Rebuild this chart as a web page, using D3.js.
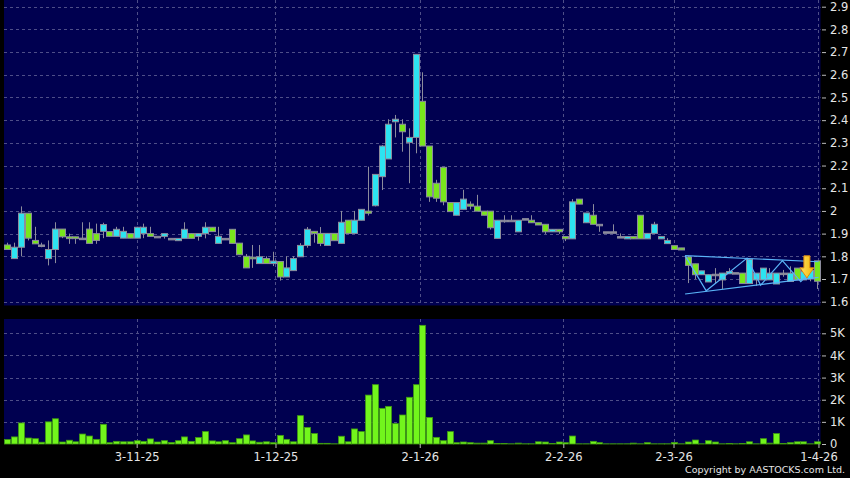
<!DOCTYPE html>
<html>
<head>
<meta charset="utf-8">
<script src="https://cdn.jsdelivr.net/npm/d3@7"></script>
<style>
  body { margin: 0; background: #000; }
  svg { display: block; }
  text { font-family: "DejaVu Sans", Verdana, sans-serif; }
</style>
</head>
<body>
<svg id="chart" width="850" height="478"></svg>
<script>
// daily prices, one entry per trading day (oldest first)
var opens = [1.85,1.79,1.84,1.99,1.87,1.85,1.79,1.83,1.92,1.886,
  1.886,1.88,1.92,1.90,1.91,1.909,1.888,1.88,1.90,1.88,
  1.90,1.90,1.888,1.888,1.879,1.869,1.879,1.90,1.888,1.90,
  1.928,1.857,1.879,1.919,1.858,1.80,1.796,1.768,1.79,1.768,
  1.777,1.709,1.737,1.798,1.848,1.91,1.901,1.848,1.901,1.857,
  1.959,1.901,1.959,1.999,2.023,2.151,2.229,2.393,2.382,2.302,
  2.324,2.483,2.286,2.122,2.192,2.037,1.981,2.007,2.03,2.021,
  1.999,1.999,1.879,1.959,1.959,1.908,1.966,1.959,1.948,1.941,
  1.908,1.919,1.887,1.877,2.052,1.948,1.981,1.941,1.908,1.908,
  1.887,1.877,1.887,1.981,1.877,1.901,1.877,1.856,1.847,1.837,
  1.797,1.767,1.719,1.687,1.721,1.696,1.723,1.728,1.726,1.68,
  1.696,1.696,1.696,1.678,1.726,1.689,1.748,1.696,1.70,1.78];
var highs = [1.86,1.86,2.02,1.99,1.93,1.86,1.87,1.95,1.92,1.90,
  1.886,1.95,1.95,1.944,1.948,1.909,1.93,1.93,1.90,1.93,
  1.944,1.93,1.888,1.90,1.879,1.879,1.95,1.90,1.90,1.95,
  1.928,1.93,1.879,1.919,1.858,1.81,1.85,1.85,1.80,1.82,
  1.777,1.80,1.80,1.858,1.929,1.91,1.929,1.901,1.901,2.0,
  1.959,2.0,2.007,2.195,2.161,2.29,2.404,2.423,2.404,2.364,
  2.69,2.611,2.286,2.137,2.192,2.037,2.037,2.093,2.042,2.071,
  1.999,1.999,1.959,1.981,1.981,1.959,1.966,1.981,1.948,1.941,
  1.919,1.919,1.887,2.052,2.052,1.991,2.03,1.941,1.908,1.941,
  1.901,1.887,1.887,1.981,1.901,1.952,1.887,1.88,1.847,1.837,
  1.80,1.767,1.736,1.719,1.748,1.726,1.748,1.728,1.726,1.787,
  1.726,1.748,1.748,1.726,1.74,1.756,1.748,1.733,1.738,1.78];
var lows = [1.83,1.79,1.80,1.87,1.855,1.84,1.76,1.77,1.88,1.855,
  1.855,1.88,1.857,1.855,1.88,1.888,1.888,1.88,1.88,1.88,
  1.88,1.888,1.888,1.878,1.879,1.869,1.879,1.879,1.869,1.879,
  1.909,1.857,1.879,1.857,1.807,1.749,1.749,1.768,1.768,1.757,
  1.693,1.709,1.737,1.798,1.838,1.86,1.845,1.848,1.869,1.857,
  1.901,1.901,1.959,1.98,2.02,2.092,2.229,2.324,2.261,2.122,
  2.254,2.286,2.04,2.04,2.025,1.997,1.981,2.007,2.007,1.999,
  1.981,1.918,1.879,1.948,1.959,1.908,1.966,1.948,1.938,1.899,
  1.908,1.899,1.867,1.877,2.03,1.948,1.941,1.908,1.908,1.908,
  1.887,1.877,1.877,1.877,1.877,1.901,1.877,1.856,1.83,1.828,
  1.682,1.70,1.719,1.687,1.682,1.656,1.723,1.728,1.68,1.68,
  1.67,1.696,1.696,1.678,1.71,1.689,1.696,1.696,1.69,1.656];
var closes = [1.83,1.84,1.99,1.88,1.855,1.85,1.83,1.92,1.886,1.878,
  1.878,1.88,1.857,1.87,1.94,1.888,1.919,1.91,1.88,1.928,
  1.928,1.888,1.888,1.90,1.879,1.879,1.919,1.879,1.90,1.928,
  1.909,1.888,1.879,1.857,1.807,1.749,1.789,1.798,1.768,1.779,
  1.709,1.749,1.79,1.848,1.919,1.901,1.857,1.901,1.869,1.95,
  1.901,1.959,2.007,1.99,2.161,2.286,2.382,2.404,2.349,2.324,
  2.69,2.286,2.062,2.056,2.04,1.997,2.037,2.052,2.021,1.999,
  1.981,1.926,1.959,1.959,1.959,1.959,1.966,1.948,1.938,1.908,
  1.919,1.908,1.877,2.04,2.03,1.991,1.941,1.941,1.908,1.908,
  1.887,1.887,1.877,1.877,1.901,1.941,1.887,1.87,1.83,1.828,
  1.76,1.719,1.736,1.719,1.721,1.726,1.733,1.728,1.68,1.787,
  1.726,1.748,1.726,1.726,1.726,1.726,1.696,1.733,1.738,1.69];
// volume in thousands
var volumes = [0.2,0.32,0.95,0.27,0.24,0.08,1.0,1.14,0.09,0.17,
  0.1,0.45,0.36,0.21,0.89,0.06,0.12,0.1,0.1,0.15,
  0.12,0.23,0.09,0.15,0.07,0.15,0.32,0.12,0.29,0.56,
  0.14,0.1,0.15,0.06,0.24,0.41,0.14,0.08,0.1,0.06,
  0.39,0.21,0.1,1.28,0.75,0.47,0.03,0.03,0.01,0.35,
  0.1,0.68,0.56,2.21,2.68,1.61,1.7,0.92,1.31,2.11,
  2.68,5.36,1.2,0.3,0.15,0.56,0.06,0.09,0.06,0.04,
  0.04,0.15,0.02,0.02,0.01,0.04,0.01,0.01,0.1,0.09,
  0.02,0.09,0.06,0.36,0.01,0.01,0.12,0.06,0.01,0.01,
  0.01,0.01,0.04,0.01,0.06,0.01,0.01,0.01,0.07,0.01,
  0.09,0.18,0.01,0.15,0.09,0.01,0.02,0.01,0.02,0.1,
  0.01,0.24,0.04,0.47,0.02,0.06,0.1,0.1,0.01,0.1];

// date ticks (position given as day index)
var dateLabels = ["3-11-25", "1-12-25", "2-1-26", "2-2-26", "2-3-26", "1-4-26"];
var dateIdx = [19, 39.4, 60.6, 81.7, 97.9, 119.2];
var priceTicks = [1.6, 1.7, 1.8, 1.9, 2.0, 2.1, 2.2, 2.3, 2.4, 2.5, 2.6, 2.7, 2.8, 2.9];
var volTicks = [0, 1, 2, 3, 4, 5];

// drawn trend lines [day index, price]
var triTop = [[99.6, 1.803], [119.2, 1.776]];
var triBottom = [[99.6, 1.634], [119.2, 1.707]];
var zigzag = [[99.6, 1.803], [102.7, 1.648], [108.7, 1.792], [110.7, 1.673], [113.9, 1.781], [116.6, 1.688], [118.3, 1.74]];
var arrowAt = [117.5, 1.705];

var svg = d3.select("#chart");
var n = closes.length;
var left = 4, right = 820.5;

var x = d3.scaleLinear().domain([-0.5, n - 0.5]).range([left, right]);
var yP = d3.scaleLinear().domain([1.6, 2.9]).range([301.7, 6.7]);
var yV = d3.scaleLinear().domain([0, 5]).range([444, 333.3]);

var navy = "#000050", gridCol = "#4e4e88", textCol = "#e6e6e6";
var upCol = "#2de3f0", downCol = "#78e61c";

svg.append("rect").attr("width", 850).attr("height", 478).attr("fill", "#000");
svg.append("rect").attr("x", left).attr("y", 0).attr("width", right - left).attr("height", 305.5).attr("fill", navy);
svg.append("rect").attr("x", left).attr("y", 319).attr("width", right - left).attr("height", 125).attr("fill", navy);

// grid
function hgrid(scale, ticks) {
    svg.append("g").selectAll("line").data(ticks).join("line")
        .attr("x1", left).attr("x2", right)
        .attr("y1", d => Math.round(scale(d)) + 0.5).attr("y2", d => Math.round(scale(d)) + 0.5)
        .attr("stroke", gridCol).attr("stroke-dasharray", "3,3");
}
hgrid(yP, priceTicks);
hgrid(yV, volTicks.slice(1));
[[0, 305.5], [319, 444]].forEach(function(r) {
    svg.append("g").selectAll("line").data(dateIdx).join("line")
        .attr("x1", d => Math.round(x(d)) + 0.5).attr("x2", d => Math.round(x(d)) + 0.5)
        .attr("y1", r[0]).attr("y2", r[1])
        .attr("stroke", gridCol).attr("stroke-dasharray", "3,3");
});

// candles
var days = d3.range(n);
var candles = svg.append("g");
candles.selectAll("line").data(days).join("line")
    .attr("x1", i => Math.round(x(i)) + 0.5).attr("x2", i => Math.round(x(i)) + 0.5)
    .attr("y1", i => yP(highs[i])).attr("y2", i => yP(lows[i]))
    .attr("stroke", "#8c8c9c");
candles.selectAll("rect").data(days).join("rect")
    .attr("x", i => Math.round(x(i)) - 2.5)
    .attr("width", 6)
    .attr("y", i => yP(Math.max(opens[i], closes[i])))
    .attr("height", i => Math.max(Math.abs(yP(opens[i]) - yP(closes[i])), 1.5))
    .attr("fill", i => opens[i] === closes[i] ? "#8c8c9c" : (closes[i] > opens[i] ? upCol : downCol))
    .attr("stroke", "#8c8c9c").attr("stroke-width", 1);

// trend lines
var line = d3.line().x(d => x(d[0])).y(d => yP(d[1]));
[triTop, triBottom, zigzag].forEach(function(pts) {
    svg.append("path").attr("d", line(pts)).attr("fill", "none")
        .attr("stroke", "#5ab4f8").attr("stroke-width", 1.2);
});

// yellow arrow
var grad = svg.append("defs").append("linearGradient").attr("id", "arrowFill")
    .attr("x1", 0).attr("x2", 1).attr("y1", 0).attr("y2", 0);
grad.append("stop").attr("offset", "0").attr("stop-color", "#ffe066");
grad.append("stop").attr("offset", "1").attr("stop-color", "#f5b800");
var ax = x(arrowAt[0]), ay = yP(arrowAt[1]);
svg.append("path")
    .attr("d", "M" + ax + "," + ay + " l-7,-10 h4 v-12 h6 v12 h4 z")
    .attr("fill", "url(#arrowFill)").attr("stroke", "#e08a10").attr("stroke-width", 1);

// volume
svg.append("g").selectAll("rect").data(days).join("rect")
    .attr("x", i => Math.round(x(i)) - 2.5)
    .attr("width", 6)
    .attr("y", i => yV(volumes[i]))
    .attr("height", i => yV(0) - yV(volumes[i]))
    .attr("fill", i => volumes[i] < 0.05 ? "#3c7a2a" : "#72f51c")
    .attr("stroke", "#3f9a12").attr("stroke-width", 0.8);

// axes
var pAxis = d3.axisRight(yP).tickValues(priceTicks).tickSize(4).tickPadding(4)
    .tickFormat(d => +d.toFixed(1));
var vAxis = d3.axisRight(yV).tickValues(volTicks).tickSize(4).tickPadding(4)
    .tickFormat(d => d === 0 ? "0" : d + "K");
var xAxis = d3.axisBottom(x).tickValues(dateIdx).tickSize(4).tickPadding(5)
    .tickFormat((d, i) => dateLabels[i]);

[[pAxis, "translate(822,0)"], [vAxis, "translate(822,0)"], [xAxis, "translate(0,444)"]].forEach(function(a) {
    var g = svg.append("g").attr("transform", a[1]).call(a[0]);
    g.select(".domain").remove();
    g.selectAll("line").attr("stroke", "#bbb");
    g.selectAll("text").attr("fill", textCol).style("font-size", "11.5px")
        .style("font-family", "'DejaVu Sans', Verdana, sans-serif");
});

svg.append("text").attr("x", 845).attr("y", 473).attr("text-anchor", "end")
    .attr("fill", textCol).style("font-size", "9.5px")
    .text("Copyright by AASTOCKS.com Ltd.");
</script>
</body>
</html>
